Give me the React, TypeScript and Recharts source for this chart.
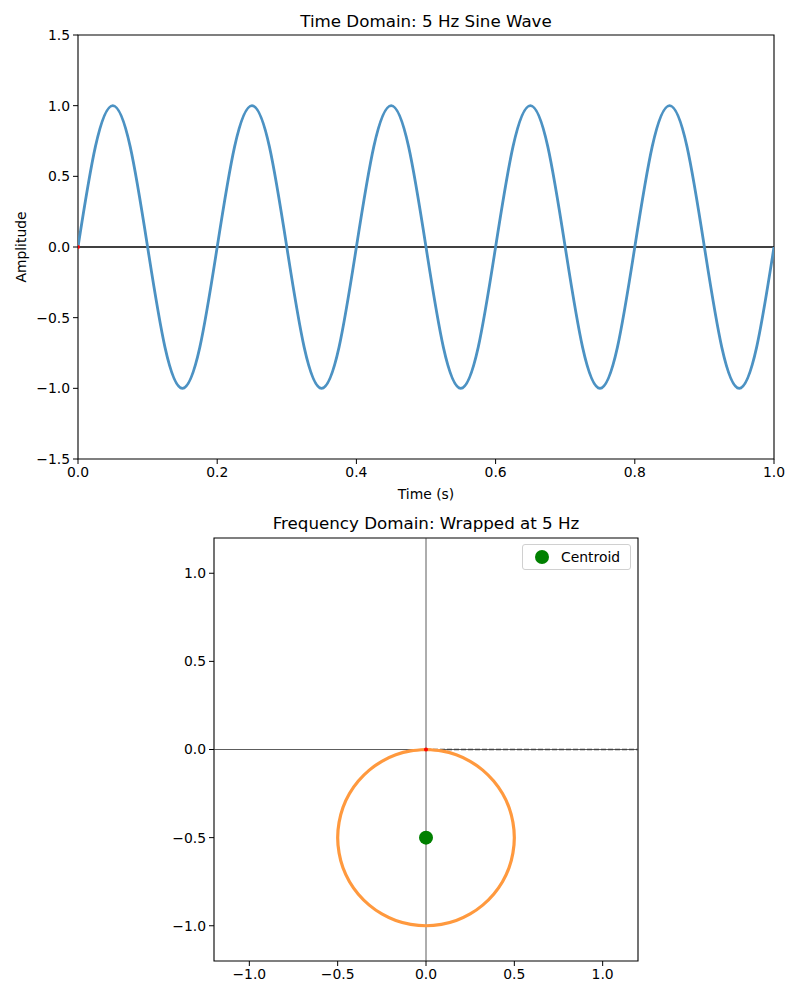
import React from "react";
import {
  ComposedChart,
  Line,
  Scatter,
  XAxis,
  YAxis,
  ReferenceLine,
  ReferenceArea,
} from "recharts";

const timeS = [
  0, 0.025, 0.05, 0.075, 0.1, 0.125, 0.15, 0.175, 0.2, 0.225, 0.25, 0.275,
  0.3, 0.325, 0.35, 0.375, 0.4, 0.425, 0.45, 0.475, 0.5, 0.525, 0.55, 0.575,
  0.6, 0.625, 0.65, 0.675, 0.7, 0.725, 0.75, 0.775, 0.8, 0.825, 0.85, 0.875,
  0.9, 0.925, 0.95, 0.975, 1.0,
];
const amplitude = [
  0, 0.71, 1, 0.71, 0, -0.71, -1, -0.71,
  0, 0.71, 1, 0.71, 0, -0.71, -1, -0.71,
  0, 0.71, 1, 0.71, 0, -0.71, -1, -0.71,
  0, 0.71, 1, 0.71, 0, -0.71, -1, -0.71,
  0, 0.71, 1, 0.71, 0, -0.71, -1, -0.71,
  0,
];

// wrapped signal in the complex plane (circle around -0.5)
const wrapRe = [
  0, 0.087, 0.171, 0.25, 0.321, 0.383, 0.433, 0.47, 0.492, 0.5, 0.492, 0.47,
  0.433, 0.383, 0.321, 0.25, 0.171, 0.087, 0, -0.087, -0.171, -0.25, -0.321,
  -0.383, -0.433, -0.47, -0.492, -0.5, -0.492, -0.47, -0.433, -0.383, -0.321,
  -0.25, -0.171, -0.087, 0,
];
const wrapIm = [
  0, -0.008, -0.03, -0.067, -0.117, -0.179, -0.25, -0.329, -0.413, -0.5,
  -0.587, -0.671, -0.75, -0.821, -0.883, -0.933, -0.97, -0.992, -1, -0.992,
  -0.97, -0.933, -0.883, -0.821, -0.75, -0.671, -0.587, -0.5, -0.413, -0.329,
  -0.25, -0.179, -0.117, -0.067, -0.03, -0.008, 0,
];

const centroid = [{ x: 0, y: -0.5 }];
const origin = [{ x: 0, y: 0 }];

const timeTicks = [0, 0.2, 0.4, 0.6, 0.8, 1.0];
const ampTicks = [-1.5, -1.0, -0.5, 0, 0.5, 1.0, 1.5];
const planeTicks = [-1.0, -0.5, 0, 0.5, 1.0];

const waveData = timeS.map((t, i) => ({ t, a: amplitude[i] }));
const circleData = wrapRe.map((x, i) => ({ x, y: wrapIm[i] }));

const font = "DejaVu Sans, sans-serif";
const tickStyle = { fill: "#000", fontSize: 13.9, fontFamily: font };
const fmt = (v: number) => (v < 0 ? "\u2212" : "") + Math.abs(v).toFixed(1);

const abs = (l: number, t: number, extra: React.CSSProperties = {}) =>
  ({
    position: "absolute",
    left: l,
    top: t,
    fontFamily: font,
    color: "#000",
    whiteSpace: "nowrap",
    ...extra,
  }) as React.CSSProperties;

export default function App() {
  return (
    <div
      style={{
        position: "absolute",
        left: 0,
        top: 0,
        width: 800,
        height: 1000,
        background: "#fff",
      }}
    >
      <div style={{ position: "absolute", left: 0, top: 0 }}>
        <ComposedChart
          width={800}
          height={510}
          data={waveData}
          margin={{ top: 35, right: 26, bottom: 11, left: 28 }}
        >
          <XAxis
            dataKey="t"
            type="number"
            domain={[0, 1]}
            ticks={timeTicks}
            tickFormatter={fmt}
            tick={tickStyle}
            tickSize={5}
            tickMargin={3}
            height={40}
            axisLine={false}
            tickLine={{ stroke: "#000" }}
            allowDataOverflow
          />
          <YAxis
            type="number"
            domain={[-1.5, 1.5]}
            ticks={ampTicks}
            tickFormatter={fmt}
            tick={tickStyle}
            tickSize={5}
            tickMargin={3}
            width={50}
            axisLine={false}
            tickLine={{ stroke: "#000" }}
            allowDataOverflow
          />
          <ReferenceLine y={0} stroke="#000" strokeWidth={1.3} />
          <Line
            dataKey="a"
            type="natural"
            stroke="#4c92c3"
            strokeWidth={2.8}
            dot={false}
            isAnimationActive={false}
          />
          <Scatter
            data={origin.map((p) => ({ t: p.x, a: p.y }))}
            dataKey="a"
            fill="#ff0000"
            shape={(p: any) => <circle cx={p.cx} cy={p.cy} r={2} fill="#ff0000" />}
            isAnimationActive={false}
          />
          <ReferenceArea
            x1={0}
            x2={1}
            y1={-1.5}
            y2={1.5}
            fill="none"
            stroke="#000"
            strokeWidth={1.1}
            fillOpacity={0}
          />
        </ComposedChart>
      </div>

      <div style={{ position: "absolute", left: 0, top: 500 }}>
        <ComposedChart
          width={800}
          height={500}
          data={circleData}
          margin={{ top: 38, right: 162, bottom: 9, left: 164 }}
        >
          <XAxis
            dataKey="x"
            type="number"
            domain={[-1.2, 1.2]}
            ticks={planeTicks}
            tickFormatter={fmt}
            tick={tickStyle}
            tickSize={5}
            tickMargin={3}
            height={30}
            axisLine={false}
            tickLine={{ stroke: "#000" }}
            allowDataOverflow
          />
          <YAxis
            dataKey="y"
            type="number"
            domain={[-1.2, 1.2]}
            ticks={planeTicks}
            tickFormatter={fmt}
            tick={tickStyle}
            tickSize={5}
            tickMargin={3}
            width={50}
            axisLine={false}
            tickLine={{ stroke: "#000" }}
            allowDataOverflow
          />
          <ReferenceLine x={0} stroke="#333" strokeWidth={0.8} />
          <ReferenceLine y={0} stroke="#333" strokeWidth={0.8} />
          <Scatter
            data={circleData}
            line={{ stroke: "#ff993e", strokeWidth: 3.2 }}
            lineJointType="natural"
            shape={() => <g />}
            isAnimationActive={false}
          />
          <ReferenceLine
            segment={[
              { x: 0, y: 0 },
              { x: 1.2, y: 0 },
            ]}
            stroke="#444"
            strokeWidth={1.6}
            strokeDasharray="5 2"
          />
          <Scatter
            data={origin}
            shape={(p: any) => <circle cx={p.cx} cy={p.cy} r={2} fill="#ff0000" />}
            isAnimationActive={false}
          />
          <Scatter
            name="Centroid"
            data={centroid}
            shape={(p: any) => <circle cx={p.cx} cy={p.cy} r={7} fill="#008000" />}
            isAnimationActive={false}
          />
          <ReferenceArea
            x1={-1.2}
            x2={1.2}
            y1={-1.2}
            y2={1.2}
            fill="none"
            stroke="#000"
            strokeWidth={1.1}
            fillOpacity={0}
          />
        </ComposedChart>
      </div>

      <div style={abs(0, 11, { width: 852, textAlign: "center", fontSize: 16.7 })}>
        Time Domain: 5 Hz Sine Wave
      </div>
      <div style={abs(0, 486, { width: 852, textAlign: "center", fontSize: 13.9 })}>
        Time (s)
      </div>
      <div
        style={abs(21, 247, {
          fontSize: 13.9,
          transform: "translate(-50%, -50%) rotate(-90deg)",
        })}
      >
        Amplitude
      </div>
      <div style={abs(0, 513, { width: 852, textAlign: "center", fontSize: 16.7 })}>
        Frequency Domain: Wrapped at 5 Hz
      </div>

      <div
        style={abs(522, 544, {
          width: 109,
          height: 26,
          boxSizing: "border-box",
          border: "1px solid #d0d0d0",
          borderRadius: 3,
          background: "#fff",
          display: "flex",
          alignItems: "center",
          fontSize: 13.9,
        })}
      >
        <span
          style={{
            width: 14,
            height: 14,
            borderRadius: 7,
            background: "#008000",
            marginLeft: 12,
            marginRight: 12,
          }}
        />
        <span>Centroid</span>
      </div>
    </div>
  );
}
